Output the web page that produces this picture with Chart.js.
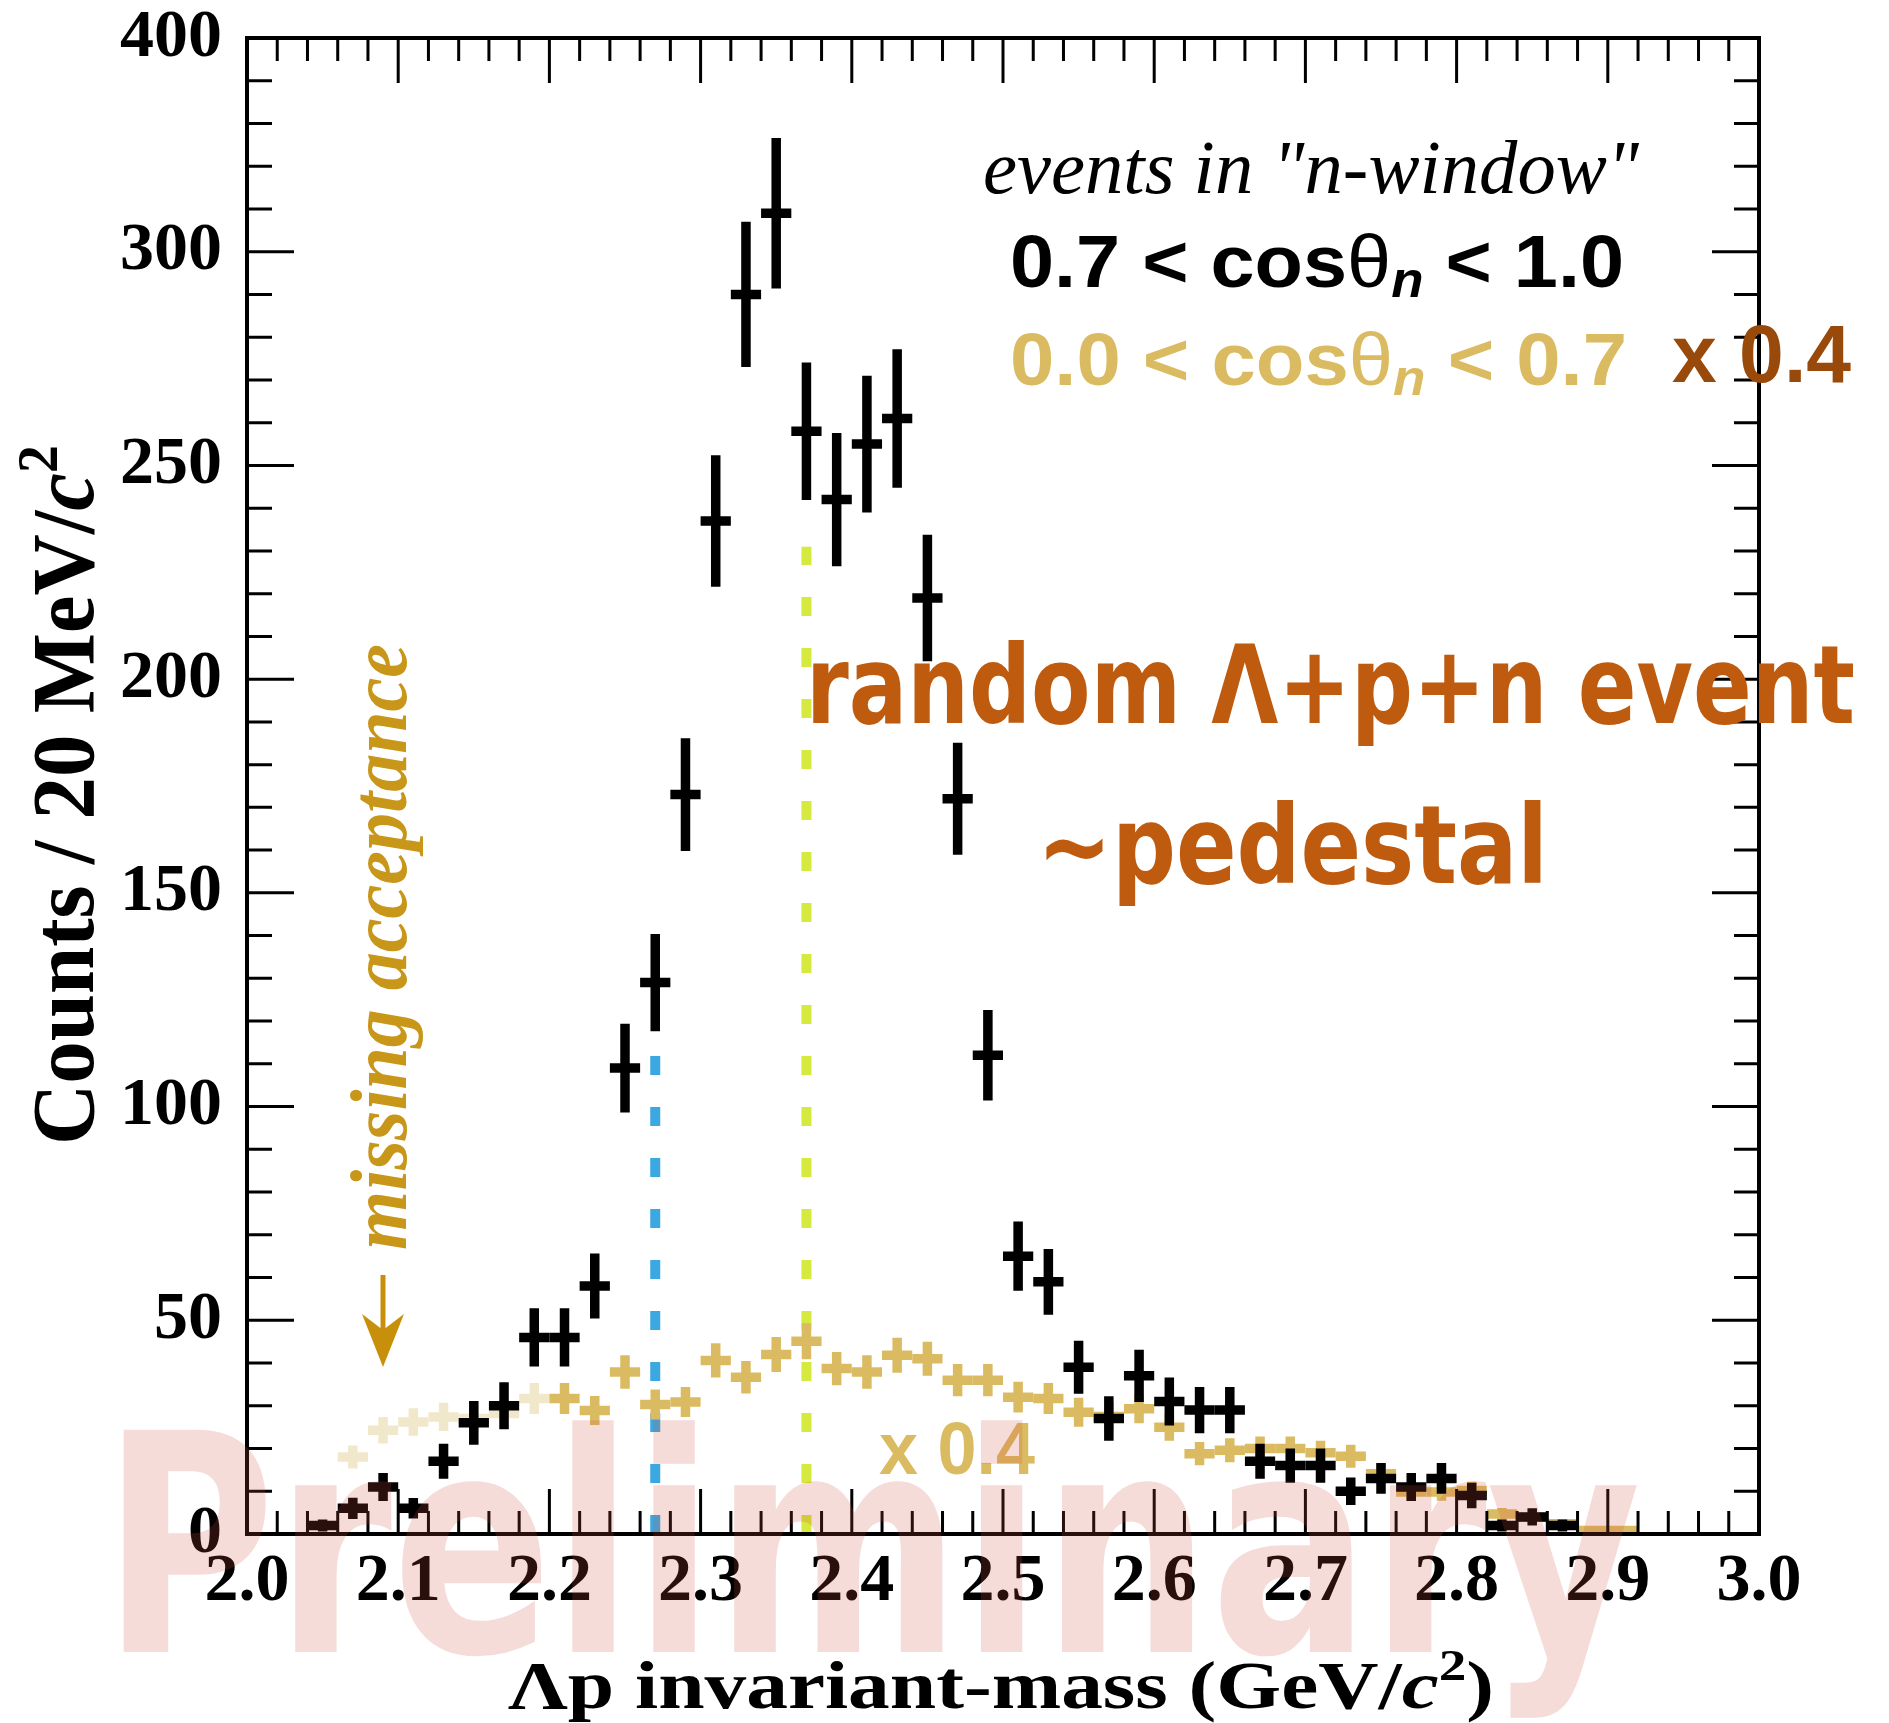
<!DOCTYPE html>
<html>
<head>
<meta charset="utf-8">
<script src="https://cdn.jsdelivr.net/npm/chart.js@4.4.1/dist/chart.umd.min.js"></script>
<style>
  html, body { margin: 0; padding: 0; background: #fff; }
  #wrap { width: 1889px; height: 1723px; }
</style>
</head>
<body>
<div id="wrap"><canvas id="massChart" width="1889" height="1723"></canvas></div>
<script>
// tick labels as printed on the plot
const xTickLabels = ['2.0', '2.1', '2.2', '2.3', '2.4', '2.5', '2.6', '2.7', '2.8', '2.9', '3.0'];
const yTickLabels = ['0', '50', '100', '150', '200', '250', '300', '400'];

// 0.7 < cos(theta_n) < 1.0 (black)
const fwdMass = [2.05, 2.07, 2.09, 2.11, 2.13, 2.15, 2.17, 2.19, 2.21, 2.23,
                 2.25, 2.27, 2.29, 2.31, 2.33, 2.35, 2.37, 2.39, 2.41, 2.43,
                 2.45, 2.47, 2.49, 2.51, 2.53, 2.55, 2.57, 2.59, 2.61, 2.63,
                 2.65, 2.67, 2.69, 2.71, 2.73, 2.75, 2.77, 2.79, 2.81, 2.83,
                 2.85, 2.87];
const fwdCounts = [2, 6, 11, 6, 17, 26, 30, 46, 46, 58,
                   109, 129, 173, 237, 290, 309, 258, 242, 255, 261,
                   219, 172, 112, 65, 59, 39, 27, 37, 31, 29,
                   29, 17, 16, 16, 10, 13, 11, 13, 9, 2,
                   4, 2];
const fwdErrors = [1.4, 2.5, 3.3, 2.4, 4.1, 5.1, 5.5, 6.8, 6.8, 7.6,
                   10.4, 11.4, 13.2, 15.4, 17.0, 17.6, 16.1, 15.6, 16.0, 16.2,
                   14.8, 13.1, 10.6, 8.1, 7.7, 6.2, 5.2, 6.1, 5.6, 5.4,
                   5.4, 4.1, 4.0, 4.0, 3.2, 3.6, 3.3, 3.6, 3.0, 1.4,
                   2.0, 1.4];

// 0.0 < cos(theta_n) < 0.7, already scaled x 0.4 (gold)
const sideMass = [2.07, 2.09, 2.11, 2.13, 2.15, 2.17, 2.19, 2.21, 2.23, 2.25,
                  2.27, 2.29, 2.31, 2.33, 2.35, 2.37, 2.39, 2.41, 2.43, 2.45,
                  2.47, 2.49, 2.51, 2.53, 2.55, 2.57, 2.59, 2.61, 2.63, 2.65,
                  2.67, 2.69, 2.71, 2.73, 2.75, 2.77, 2.79, 2.81, 2.83, 2.85,
                  2.87, 2.89, 2.91];
const sideCounts = [18, 24.3, 26.2, 27.4, 27, 28.2, 31.7, 31.7, 28.9, 37.9,
                    30.3, 30.9, 40.6, 36.7, 42.0, 45.1, 38.7, 37.9, 41.8, 41.0,
                    36.0, 36.0, 32.0, 31.7, 28.5, 27.5, 29.3, 25.0, 18.8, 19.6,
                    20.0, 20.0, 19.0, 18.2, 14.1, 9.8, 9.8, 10.2, 4.7, 3.9,
                    2.4, 0.8, 0.8];
const sideErrors = [2.7, 3.1, 3.2, 3.3, 3.3, 3.4, 3.6, 3.6, 3.4, 3.9,
                    3.5, 3.5, 4.0, 3.8, 4.1, 4.2, 3.9, 3.9, 4.1, 4.0,
                    3.8, 3.8, 3.6, 3.6, 3.4, 3.3, 3.4, 3.2, 2.7, 2.8,
                    2.8, 2.8, 2.8, 2.7, 2.4, 2.0, 2.0, 2.0, 1.4, 1.2,
                    1.0, 0.6, 0.6];

// dashed threshold markers
const markerMass = [2.27, 2.37];
const markerTop = [112, 231];

const binWidth = 0.02;
const acceptanceEdge = 2.2;

const GOLD = 'rgb(219,187,98)';
const PALE_GOLD = 'rgb(241,231,203)';
const ORANGE = 'rgb(191,91,14)';

function toPoints(xs, ys) {
    return xs.map((m, i) => ({ x: m, y: ys[i] }));
}

// draws a run of text pieces squeezed to a target width
function fitText(ctx, parts, x, y, width, rotated) {
    let total = 0;
    parts.forEach(p => {
        ctx.font = p.font;
        p.w = ctx.measureText(p.t).width;
        total += p.w;
    });
    ctx.save();
    ctx.translate(x, y);
    if (rotated) ctx.rotate(-Math.PI / 2);
    ctx.scale(width / total, 1);
    ctx.textBaseline = 'alphabetic';
    ctx.textAlign = 'left';
    let cx = 0;
    parts.forEach(p => {
        ctx.font = p.font;
        ctx.fillStyle = p.color;
        ctx.fillText(p.t, cx, p.dy || 0);
        cx += p.w;
    });
    ctx.restore();
}

function drawCrosses(ctx, xs, ys, masses, counts, errors, colorFor) {
    ctx.save();
    ctx.lineWidth = 9.5;
    ctx.lineCap = 'butt';
    masses.forEach((m, i) => {
        const px = xs.getPixelForValue(m);
        const py = ys.getPixelForValue(counts[i]);
        ctx.strokeStyle = colorFor(m);
        ctx.beginPath();
        ctx.moveTo(xs.getPixelForValue(m - binWidth / 2), py);
        ctx.lineTo(xs.getPixelForValue(m + binWidth / 2), py);
        ctx.moveTo(px, ys.getPixelForValue(Math.max(0, counts[i] - errors[i])));
        ctx.lineTo(px, ys.getPixelForValue(counts[i] + errors[i]));
        ctx.stroke();
    });
    ctx.restore();
}

const histPlugin = {
    id: 'histDecor',
    afterDatasetsDraw(chart) {
        const { ctx, chartArea: a, scales: { x, y } } = chart;

        drawCrosses(ctx, x, y, sideMass, sideCounts, sideErrors, m => m < acceptanceEdge ? PALE_GOLD : GOLD);
        drawCrosses(ctx, x, y, fwdMass, fwdCounts, fwdErrors, () => '#000');

        // frame with inward ticks on all sides
        ctx.save();
        ctx.strokeStyle = '#000';
        ctx.lineWidth = 3;
        ctx.beginPath();
        for (let v = 0; v <= 350; v += 10) {
            const py = y.getPixelForValue(v);
            const len = v % 50 === 0 ? 47 : 25;
            ctx.moveTo(a.left, py); ctx.lineTo(a.left + len, py);
            ctx.moveTo(a.right, py); ctx.lineTo(a.right - len, py);
        }
        for (let k = 0; k <= 50; k++) {
            const px = x.getPixelForValue(2 + k * binWidth);
            const len = k % 5 === 0 ? 45 : 23;
            ctx.moveTo(px, a.bottom); ctx.lineTo(px, a.bottom - len);
            ctx.moveTo(px, a.top); ctx.lineTo(px, a.top + len);
        }
        ctx.stroke();
        ctx.lineWidth = 4;
        ctx.strokeRect(a.left, a.top, a.right - a.left, a.bottom - a.top);
        ctx.restore();

        // legend block
        fitText(ctx, [{ t: 'events in "n-window"', font: 'italic 76px "Liberation Serif"', color: '#000' }],
            983, 193, 656);
        const sans = '"Liberation Sans"';
        fitText(ctx, [
            { t: '0.7 < cos', font: 'bold 75px ' + sans, color: '#000' },
            { t: 'θ', font: '75px ' + sans, color: '#000' },
            { t: 'n', font: 'italic bold 50px ' + sans, color: '#000', dy: 10 },
            { t: ' < 1.0', font: 'bold 75px ' + sans, color: '#000' }
        ], 1010, 287, 614);
        fitText(ctx, [
            { t: '0.0 < cos', font: 'bold 75px ' + sans, color: GOLD },
            { t: 'θ', font: '75px ' + sans, color: GOLD },
            { t: 'n', font: 'italic bold 50px ' + sans, color: GOLD, dy: 10 },
            { t: ' < 0.7', font: 'bold 75px ' + sans, color: GOLD }
        ], 1010, 385, 617);
        fitText(ctx, [{ t: 'x 0.4', font: 'bold 82px "Liberation Sans Narrow", "Liberation Sans"', color: 'rgb(153,74,10)' }],
            1672, 382, 179);

        // annotations
        fitText(ctx, [{ t: 'random Λ+p+n event', font: 'bold 108px "DejaVu Sans"', color: ORANGE }], 806, 723, 1049);
        fitText(ctx, [{ t: '~pedestal', font: 'bold 108px "DejaVu Sans"', color: ORANGE }], 1037, 883, 511);
        fitText(ctx, [{ t: 'x 0.4', font: 'bold 74px ' + sans, color: GOLD }], 879, 1474, 156);

        fitText(ctx, [{ t: 'missing acceptance', font: 'italic bold 80px "Liberation Serif"', color: 'rgb(200,150,25)' }],
            406, 1250, 606, true);
        ctx.save();
        ctx.strokeStyle = 'rgb(200,144,10)';
        ctx.fillStyle = 'rgb(200,144,10)';
        ctx.lineWidth = 5;
        ctx.beginPath();
        ctx.moveTo(383, 1275); ctx.lineTo(383, 1335);
        ctx.stroke();
        ctx.beginPath();
        ctx.moveTo(383, 1367); ctx.lineTo(362, 1314); ctx.lineTo(383, 1330); ctx.lineTo(404, 1314);
        ctx.closePath();
        ctx.fill();
        ctx.restore();

        // axis titles
        const serif = '"Liberation Serif"';
        fitText(ctx, [
            { t: 'Counts / 20 MeV/', font: 'bold 88px ' + serif, color: '#000' },
            { t: 'c', font: 'italic bold 88px ' + serif, color: '#000' },
            { t: '2', font: 'bold 58px ' + serif, color: '#000', dy: -36 }
        ], 93, 1145, 700, true);
        fitText(ctx, [
            { t: 'Λp invariant-mass (GeV/', font: 'bold 68px ' + serif, color: '#000' },
            { t: 'c', font: 'italic bold 68px ' + serif, color: '#000' },
            { t: '2', font: 'bold 45px ' + serif, color: '#000', dy: -28 },
            { t: ')', font: 'bold 68px ' + serif, color: '#000' }
        ], 508, 1708, 986);
    },
    afterDraw(chart) {
        // translucent "Preliminary" watermark over everything
        const ctx = chart.ctx;
        const off = document.createElement('canvas');
        off.width = chart.width;
        off.height = chart.height;
        const octx = off.getContext('2d');
        octx.font = 'bold 305px "DejaVu Sans"';
        const w = octx.measureText('Preliminary').width;
        octx.save();
        octx.translate(102, 1652);
        octx.scale(1539 / w, 1);
        octx.fillStyle = 'rgb(205,80,60)';
        octx.fillText('Preliminary', 0, 0);
        octx.restore();
        ctx.save();
        ctx.globalAlpha = 0.2;
        ctx.drawImage(off, 0, 0);
        ctx.restore();
    }
};

const tickFont = { family: '"Liberation Serif"', size: 68, weight: 'bold', lineHeight: 1.0 };

const markerSets = markerMass.map((m, i) => ({
    type: 'line',
    label: 'marker' + i,
    data: [{ x: m, y: 0 }, { x: m, y: markerTop[i] }],
    borderColor: i === 0 ? 'rgb(60,168,226)' : 'rgb(214,233,62)',
    borderWidth: 10,
    borderDash: [19, 32],
    borderCapStyle: 'butt',
    pointRadius: 0,
    showLine: true,
    fill: false
}));

new Chart(document.getElementById('massChart'), {
    type: 'scatter',
    data: {
        datasets: [
            { label: '0.7 < cos < 1.0', data: toPoints(fwdMass, fwdCounts), pointRadius: 0 },
            { label: '0.0 < cos < 0.7', data: toPoints(sideMass, sideCounts), pointRadius: 0 },
            ...markerSets
        ]
    },
    options: {
        responsive: false,
        animation: false,
        devicePixelRatio: 1,
        layout: { padding: { left: 0, top: 38, right: 130, bottom: 0 } },
        plugins: { legend: { display: false }, tooltip: { enabled: false } },
        scales: {
            x: {
                type: 'linear', min: 2.0, max: 3.0,
                border: { display: false },
                grid: { display: false, drawTicks: false },
                ticks: {
                    stepSize: 0.1, padding: 14, color: '#000', font: tickFont,
                    maxRotation: 0, autoSkip: false,
                    callback: (v, i) => xTickLabels[i]
                },
                afterFit: s => { s.height = 189; s.paddingLeft = 0; s.paddingRight = 0; }
            },
            y: {
                type: 'linear', min: 0, max: 350,
                border: { display: false },
                grid: { display: false, drawTicks: false },
                ticks: {
                    stepSize: 50, padding: 25, color: '#000', font: tickFont,
                    callback: (v, i) => yTickLabels[i]
                },
                afterFit: s => { s.width = 247; s.paddingTop = 0; s.paddingBottom = 0; }
            }
        }
    },
    plugins: [histPlugin]
});
</script>
</body>
</html>
